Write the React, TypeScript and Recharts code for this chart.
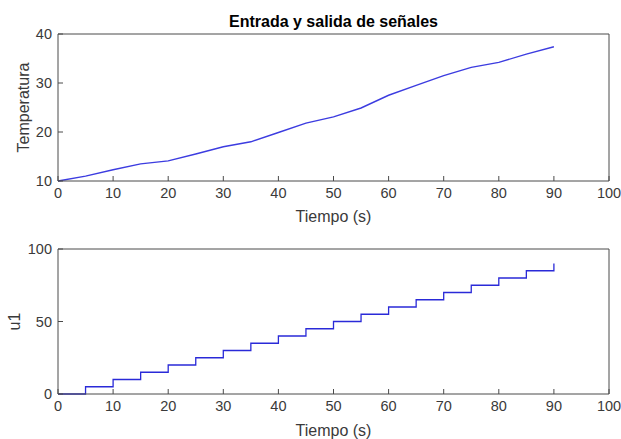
import { LineChart, Line, XAxis, YAxis } from "recharts"

// sample times (s)
const tiempo = [0, 5, 10, 15, 20, 25, 30, 35, 40, 45, 50, 55, 60, 65, 70, 75, 80, 85, 90]
// output temperature
const temperatura = [10, 11.0, 12.3, 13.5, 14.1, 15.5, 17.0, 18.0, 19.9, 21.8, 23.1, 24.9, 27.5, 29.5, 31.5, 33.2, 34.2, 35.9, 37.4]
// input signal u1 (held between samples)
const u1 = [0, 5, 10, 15, 20, 25, 30, 35, 40, 45, 50, 55, 60, 65, 70, 75, 80, 85, 90]

const xTicks = [0, 10, 20, 30, 40, 50, 60, 70, 80, 90, 100]
const tempTicks = [10, 20, 30, 40]
const u1Ticks = [0, 50, 100]

const dataTemp = tiempo.map((t, i) => ({ t, temp: temperatura[i] }))
const dataU = tiempo.map((t, i) => ({ t, u1: u1[i] }))

const FONT = "'Liberation Sans', Arial, Helvetica, sans-serif"
const AXIS = "#4a4a4a"
const TEXT = "#3a3a3a"
const tickStyle = { fill: TEXT, fontSize: 14.5, fontFamily: FONT }
const labelStyle = { fill: TEXT, fontSize: 16, fontFamily: FONT }

export default function App() {
  return (
    <div style={{ position: "absolute", left: 0, top: 0, width: 621, height: 439, background: "#fff", fontFamily: FONT, overflow: "hidden" }}>
      <div style={{ position: "absolute", left: 58, top: 14, width: 551, textAlign: "center", fontWeight: "bold", fontSize: 16, lineHeight: "16px", color: "#000" }}>
        Entrada y salida de señales
      </div>

      <div style={{ position: "absolute", left: 0, top: 0 }}>
        <LineChart width={621} height={228} data={dataTemp} margin={{ top: 33, right: 11, bottom: 0, left: 0 }}>
          <XAxis xAxisId="b" dataKey="t" type="number" domain={[0, 100]} ticks={xTicks} interval={0}
            height={47} tickSize={-5} tickMargin={12} stroke={AXIS} tick={tickStyle}
            label={{ value: "Tiempo (s)", position: "insideBottom", offset: 6, style: labelStyle }} />
          <XAxis xAxisId="t" orientation="top" dataKey="t" type="number" domain={[0, 100]} ticks={xTicks} interval={0}
            height={1} tickSize={-5} tick={false} stroke={AXIS} />
          <YAxis yAxisId="l" type="number" domain={[10, 40]} ticks={tempTicks} interval={0}
            width={58} tickSize={-5} tickMargin={11} stroke={AXIS} tick={tickStyle}
            label={{ value: "Temperatura", angle: -90, position: "insideLeft", offset: 23, style: { ...labelStyle, textAnchor: "middle" } }} />
          <YAxis yAxisId="r" orientation="right" type="number" domain={[10, 40]} ticks={tempTicks} interval={0}
            width={1} tickSize={-5} tick={false} stroke={AXIS} />
          <Line xAxisId="b" yAxisId="l" dataKey="temp" type="linear" stroke="#3c3ce0" strokeWidth={1.4} dot={false} isAnimationActive={false} />
          <Line xAxisId="t" yAxisId="r" dataKey="temp" type="linear" stroke="none" dot={false} isAnimationActive={false} />
        </LineChart>
      </div>

      <div style={{ position: "absolute", left: 0, top: 228 }}>
        <LineChart width={621} height={211} data={dataU} margin={{ top: 20, right: 11, bottom: 0, left: 0 }}>
          <XAxis xAxisId="b" dataKey="t" type="number" domain={[0, 100]} ticks={xTicks} interval={0}
            height={45} tickSize={-5} tickMargin={12} stroke={AXIS} tick={tickStyle}
            label={{ value: "Tiempo (s)", position: "insideBottom", offset: 3, style: labelStyle }} />
          <XAxis xAxisId="t" orientation="top" dataKey="t" type="number" domain={[0, 100]} ticks={xTicks} interval={0}
            height={1} tickSize={-5} tick={false} stroke={AXIS} />
          <YAxis yAxisId="l" type="number" domain={[0, 100]} ticks={u1Ticks} interval={0}
            width={58} tickSize={-5} tickMargin={11} stroke={AXIS} tick={tickStyle}
            label={{ value: "u1", angle: -90, position: "insideLeft", offset: 14, style: { ...labelStyle, textAnchor: "middle" } }} />
          <YAxis yAxisId="r" orientation="right" type="number" domain={[0, 100]} ticks={u1Ticks} interval={0}
            width={1} tickSize={-5} tick={false} stroke={AXIS} />
          <Line xAxisId="b" yAxisId="l" dataKey="u1" type="stepAfter" stroke="#2a2ad8" strokeWidth={1.3} dot={false} isAnimationActive={false} />
          <Line xAxisId="t" yAxisId="r" dataKey="u1" type="stepAfter" stroke="none" dot={false} isAnimationActive={false} />
        </LineChart>
      </div>
    </div>
  )
}
